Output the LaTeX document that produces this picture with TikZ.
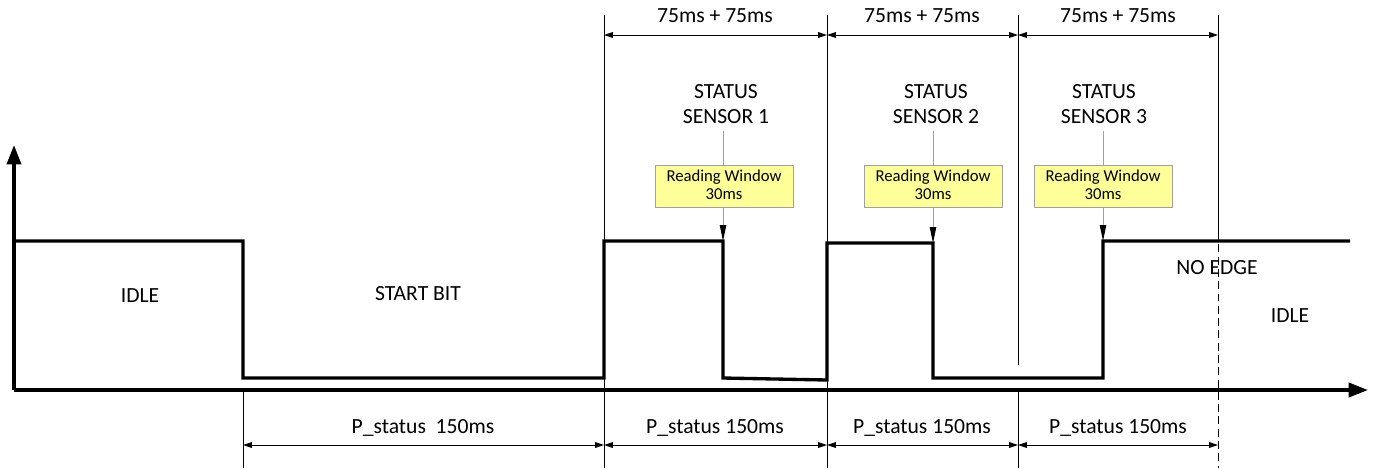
\documentclass[tikz,border=0pt]{standalone}
\usepackage{fontspec}
\setmainfont{Carlito}
\usetikzlibrary{arrows.meta}
\definecolor{winfill}{HTML}{FFFF99}
\definecolor{winline}{HTML}{A0A0A0}

\begin{document}
\begin{tikzpicture}[x=0.02cm,y=-0.02cm,
      lb/.style={font=\fontsize{12.3}{14.2}\selectfont,align=center,inner sep=0pt},
      wn/.style={draw=winline,fill=winfill,font=\fontsize{9.5}{10.4}\selectfont,
        align=center,minimum width=2.76cm,minimum height=0.84cm,inner sep=1pt},
      sg/.style={line width=1.9pt,line join=miter},
      ax/.style={line width=1.9pt,-{Triangle[length=11pt,width=8pt]}},
      dm/.style={line width=0.55pt,{Triangle[length=5pt,width=3.2pt]}-{Triangle[length=5pt,width=3.2pt]}},
      tk/.style={line width=0.55pt},
      rd/.style={winline,line width=0.55pt,-{Triangle[length=9pt,width=3.6pt,color=black]}}]
    \useasboundingbox (0,0) rectangle (1375,468);
    % axes
    \coordinate (o) at (14,390);
    \coordinate (ytop) at (14,145);
    \coordinate (xend) at (1368,390);
    \draw[ax] (o) -- (ytop);
    \draw[ax] (o) -- (xend);
    % signal
    \draw[sg] (14,241) -| (243,378) -| (604,241) -| (723,378) -- (827,380)
      |- (933,243) |- (1103,378) |- (1350,241);
    % time marks
    \foreach \n/\x in {a/243,b/604,c/827,d/1018,e/1218}{
      \coordinate (\n lo) at (\x,468);
      \coordinate (\n ax) at (\x,390);
      \coordinate (\n dn) at (\x,445);
      \coordinate (\n hi) at (\x,15);
      \coordinate (\n up) at (\x,35);
    }
    \coordinate (dmid) at (1018,365);
    \coordinate (emid) at (1218,232);
    \draw[tk] (bhi)--(bax);\draw[tk] (chi)--(cax);
    \draw[tk] (dhi)--(dmid);\draw[tk] (ehi)--(emid);
    \draw[tk,dash pattern=on 4.5pt off 2.5pt] (emid)--(elo);
    \foreach \n in {a,b,c,d}{\draw[tk] (\n ax)--(\n lo);}
    % spans
    \draw[dm] (bup)--(cup);\draw[dm] (cup)--(dup);\draw[dm] (dup)--(eup);
    \draw[dm] (adn)--(bdn);\draw[dm] (bdn)--(cdn);
    \draw[dm] (cdn)--(ddn);\draw[dm] (ddn)--(edn);
    \node[lb](t1) at (715,16) {75ms + 75ms};
    \node[lb](t2) at (922,16) {75ms + 75ms};
    \node[lb](t3) at (1118,16) {75ms + 75ms};
    \node[lb](p1) at (423,428) {P\_status\ \ 150ms};
    \node[lb](p2) at (715,428) {P\_status 150ms};
    \node[lb](p3) at (922,428) {P\_status 150ms};
    \node[lb](p4) at (1118,428) {P\_status 150ms};
    % states
    \node[lb](i1) at (140,296) {IDLE};
    \node[lb](sb) at (418,294) {START BIT};
    \node[lb](ne) at (1217,268) {NO EDGE};
    \node[lb](i2) at (1290,316) {IDLE};
    % sensors
    \node[lb,inner sep=4pt](s1) at (726,104) {STATUS\\SENSOR 1};
    \node[lb,inner sep=4pt](s2) at (936,104) {STATUS\\SENSOR 2};
    \node[lb,inner sep=4pt](s3) at (1104,104) {STATUS\\SENSOR 3};
    \node[wn](w1) at (724,186) {Reading Window\\30ms\vphantom{p}};
    \node[wn](w2) at (933,186) {Reading Window\\30ms\vphantom{p}};
    \node[wn](w3) at (1103,186) {Reading Window\\30ms\vphantom{p}};
    \coordinate (r1) at (723,241);
    \coordinate (r2) at (933,243);
    \coordinate (r3) at (1103,241);
    \draw[winline] (s1.south-|r1)--(w1.north-|r1);\draw[rd] (w1.south-|r1)--(r1);
    \draw[winline] (s2.south-|r2)--(w2.north-|r2);\draw[rd] (w2.south-|r2)--(r2);
    \draw[winline] (s3.south-|r3)--(w3.north-|r3);\draw[rd] (w3.south-|r3)--(r3);
  \end{tikzpicture}
\end{document}
